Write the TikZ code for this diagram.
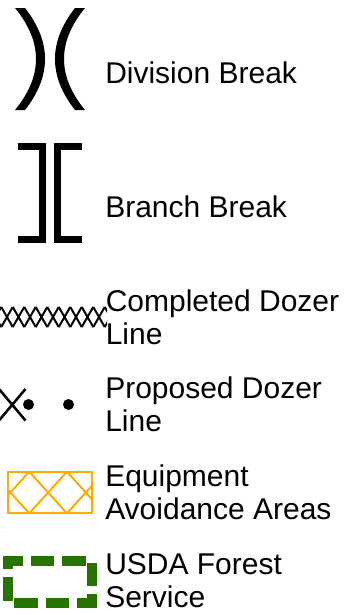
\documentclass[tikz,border=0pt]{standalone}
\usepackage{fontspec}
\setmainfont{Liberation Sans}
\definecolor{avoidorange}{RGB}{255,170,0}
\definecolor{usfsgreen}{RGB}{38,115,0}
\begin{document}
\begin{tikzpicture}[x=0.75pt,y=-0.75pt,
  legendtext/.style={anchor=base west,align=left,inner sep=0pt,font=\fontsize{22.5}{24.4}\selectfont},
  breakbar/.style={line width=5.25pt,miter limit=10}]
\useasboundingbox (0,0) rectangle (347,615);
% division break
\fill (15,8) .. controls (43,42) and (43,76) .. (15,110) -- (25,110) .. controls (51.7,76) and (51.7,42) .. (25,8) -- cycle;
\fill (85,8) .. controls (57,42) and (57,76) .. (85,110) -- (75,110) .. controls (48.3,76) and (48.3,42) .. (75,8) -- cycle;
\node[legendtext] (division) at (105,83.3) {Division Break};
% branch break
\draw[breakbar] (18.3,146.3) -- (42.7,146.3) -- (42.7,239.3) -- (18.3,239.3);
\draw[breakbar] (81.7,146.3) -- (57.8,146.3) -- (57.8,239.3) -- (81.7,239.3);
\node[legendtext] (branch) at (105,217) {Branch Break};
% completed dozer line
\begin{scope}
 \clip (0,300) rectangle (107,335);
 \foreach \j in {-1,...,9}
  \draw[line width=1.5pt] (1.25+11.5*\j,307) -- (12.75+11.5*\j,327)
                          (1.25+11.5*\j,327) -- (12.75+11.5*\j,307);
\end{scope}
\node[legendtext] (completed) at (105.5,344.2) {Completed Dozer\\Line};
% proposed dozer line
\draw[line width=1.9pt] (-1,389) -- (25.5,420.5) (-1,420.5) -- (25.5,389);
\fill (28.5,404.5) circle (5.5) (68.5,404.5) circle (5.5);
\node[legendtext] (proposed) at (105,431) {Proposed Dozer\\Line};
% equipment avoidance areas
\begin{scope}
 \clip (8.3,471.7) rectangle (91.7,513.3);
 \foreach \j in {-1,0,1}
  \draw[avoidorange,line width=1.5pt] (29.3+37.7*\j,471.7) -- (67+37.7*\j,513.3)
                                      (29.3+37.7*\j,513.3) -- (67+37.7*\j,471.7);
\end{scope}
\draw[avoidorange,line width=1.5pt] (8.3,471.7) rectangle (91.7,513.3);
\node[legendtext] (avoidance) at (105,519.3) {Equipment\\Avoidance Areas};
% usda forest service
\draw[usfsgreen,line width=7.5pt,dash pattern=on 17.5pt off 6.04pt,dash phase=20.85pt]
  (27.2,560.7) -- (91.7,560.7) -- (91.7,602.7) -- (8.3,602.7) -- (8.3,560.7) -- (27.2,560.7);
\node[legendtext] (usfs) at (105,607.5) {USDA Forest\\Service};
\end{tikzpicture}
\end{document}
